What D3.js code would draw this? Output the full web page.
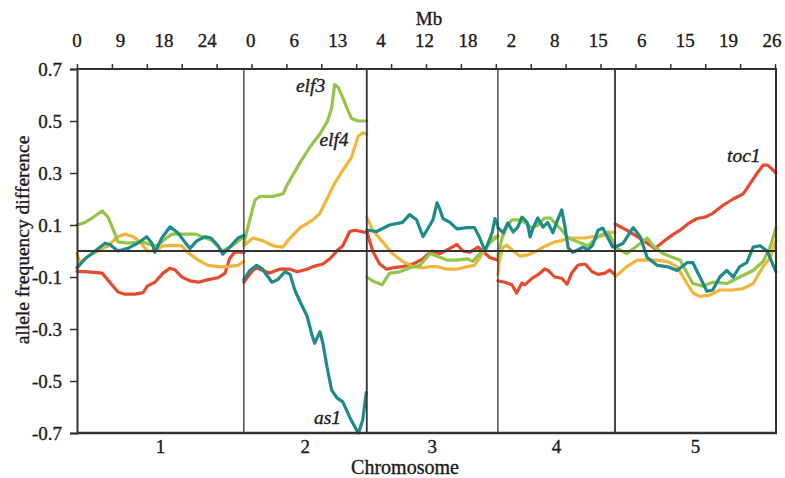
<!DOCTYPE html>
<html>
<head>
<meta charset="utf-8">
<script src="https://cdn.jsdelivr.net/npm/d3@7"></script>
<style>
  html, body { margin: 0; padding: 0; background: #fff; }
  svg { display: block; font-family: "Liberation Serif", "Times New Roman", serif; }
  svg text { stroke: #1a1a1a; stroke-width: 0.35px; }
</style>
</head>
<body>
<svg id="chart" width="785" height="478"></svg>
<script>
// ---------------- data ----------------
const chromosomes = ["1", "2", "3", "4", "5"];
const chromLengths = [28.5, 21.0, 22.4, 20.0, 27.5]; // Mb (display)
const yTicks = [0.7, 0.5, 0.3, 0.1, -0.1, -0.3, -0.5, -0.7];
const topTickCount = 20;
const topTickLabels = ["0","9","18","24","0","6","13","4","12","18","2","8","15","6","15","19","26"];

// each series: one array of [Mb within chromosome, allele frequency difference] per chromosome
const greenSeries = [
  [[0,0.10],[1.4,0.11],[2.6,0.127],[4.3,0.154],[5.3,0.13],[6.1,0.088],[7.0,0.035],[8.7,0.03],[11.1,0.035],[12.5,0.025],[13.7,0.02],[15.0,0.045],[16.2,0.065],[18.4,0.065],[20.2,0.065],[21.4,0.055],[23.1,0.04],[24.8,0.0],[26.5,0.02],[28.5,0.055]],
  [[0,0.03],[1.0,0.12],[1.9,0.196],[2.7,0.21],[5.0,0.21],[6.7,0.22],[7.3,0.25],[9.6,0.34],[11.3,0.40],[13.0,0.45],[14.3,0.50],[15.0,0.55],[15.5,0.64],[16.1,0.63],[16.9,0.59],[17.8,0.54],[18.4,0.51],[19.5,0.50],[21.0,0.50]],
  [[0,-0.10],[1.0,-0.115],[2.6,-0.13],[3.9,-0.085],[5.6,-0.08],[7.3,-0.065],[9.1,-0.055],[10.8,-0.01],[12.0,-0.02],[13.7,-0.035],[15.4,-0.035],[17.1,-0.03],[18.1,-0.04],[19.3,-0.01],[20.2,0.01],[21.4,0.04],[22.4,0.055]],
  [[0,-0.02],[0.7,0.05],[1.5,0.092],[2.4,0.12],[3.4,0.12],[4.6,0.11],[5.8,0.088],[6.8,0.1],[8.0,0.127],[9.0,0.127],[9.7,0.108],[10.9,0.08],[12.0,0.05],[13.7,0.035],[15.4,0.02],[17.1,0.055],[18.8,0.073],[20.0,0.023]],
  [[0,0.015],[2.0,-0.01],[3.8,0.02],[5.5,0.05],[6.5,0.02],[8.2,-0.01],[9.9,-0.025],[11.1,-0.035],[12.3,-0.085],[13.3,-0.125],[15.0,-0.135],[16.7,-0.12],[19.1,-0.125],[21.3,-0.10],[23.6,-0.075],[25.3,-0.04],[26.5,0.015],[27.5,0.09]]
];
const orangeSeries = [
  [[0,-0.01],[0.5,-0.045],[1.9,-0.02],[3.6,0.0],[5.3,0.02],[7.0,0.055],[8.2,0.065],[9.6,0.055],[10.8,0.035],[12.0,0.0],[13.3,0.0],[14.7,0.02],[16.2,0.022],[17.9,0.02],[18.9,-0.005],[20.7,-0.035],[22.4,-0.055],[24.1,-0.06],[25.8,-0.06],[27.5,-0.055],[28.5,-0.04]],
  [[0,0.02],[1.5,0.05],[3.2,0.04],[5.0,0.02],[6.7,0.015],[7.5,0.04],[9.6,0.09],[11.8,0.12],[13.0,0.145],[14.2,0.2],[15.5,0.26],[16.9,0.31],[18.4,0.36],[19.5,0.44],[20.3,0.455],[21.0,0.45]],
  [[0,0.13],[1.0,0.08],[2.7,0.035],[4.4,-0.01],[6.1,-0.04],[7.9,-0.06],[9.6,-0.065],[10.8,-0.06],[12.0,-0.06],[13.7,-0.07],[15.4,-0.07],[17.1,-0.06],[18.4,-0.055],[19.3,-0.025],[20.5,0.015],[21.5,0.05],[22.4,0.06]],
  [[0,-0.09],[0.3,-0.028],[0.9,0.015],[1.5,0.023],[2.6,0.0],[3.8,-0.02],[5.1,-0.015],[6.3,-0.004],[7.5,0.012],[8.5,0.023],[9.7,0.035],[10.9,0.04],[12.0,0.05],[13.7,0.05],[14.9,0.05],[16.1,0.055],[17.1,0.055],[18.3,0.06],[19.5,0.073],[20.0,0.07]],
  [[0,-0.10],[2.0,-0.06],[3.8,-0.035],[5.5,-0.035],[7.2,-0.035],[8.9,-0.04],[10.6,-0.06],[12.3,-0.125],[13.3,-0.16],[14.5,-0.175],[16.2,-0.17],[17.9,-0.15],[20.0,-0.15],[21.9,-0.145],[23.6,-0.125],[25.3,-0.06],[26.5,-0.025],[27.5,0.04]]
];
const tealSeries = [
  [[0,-0.065],[1.4,-0.03],[3.1,0.0],[4.8,0.03],[5.6,0.025],[7.0,0.0],[8.7,0.01],[10.4,0.03],[11.9,0.055],[12.8,0.03],[13.3,-0.005],[14.5,0.05],[15.9,0.093],[17.3,0.068],[18.4,0.035],[19.3,0.01],[20.5,0.04],[21.9,0.055],[22.9,0.05],[24.1,0.02],[24.9,-0.012],[26.1,0.015],[27.5,0.05],[28.5,0.06]],
  [[0,-0.11],[1.0,-0.075],[2.2,-0.055],[3.2,-0.07],[4.8,-0.12],[5.8,-0.11],[7.0,-0.08],[7.9,-0.09],[8.7,-0.15],[9.6,-0.195],[10.8,-0.25],[11.6,-0.32],[12.1,-0.355],[13.0,-0.31],[13.5,-0.355],[14.2,-0.445],[15.0,-0.535],[15.9,-0.565],[16.9,-0.58],[18.1,-0.64],[19.3,-0.69],[19.6,-0.70],[20.3,-0.65],[20.9,-0.545]],
  [[0,0.08],[1.7,0.075],[3.9,0.1],[6.1,0.11],[7.3,0.14],[8.5,0.12],[9.6,0.055],[10.8,0.1],[11.3,0.12],[12.0,0.185],[12.5,0.16],[13.0,0.125],[14.2,0.11],[15.4,0.085],[17.1,0.09],[18.4,0.09],[19.3,0.05],[20.2,0.0],[20.7,0.03],[21.4,0.07],[21.9,0.125],[22.3,0.1]],
  [[0,0.09],[0.9,0.07],[1.7,0.108],[2.6,0.073],[3.4,0.092],[4.1,0.13],[5.0,0.11],[5.5,0.054],[6.0,0.088],[6.8,0.127],[7.7,0.092],[8.5,0.11],[9.4,0.07],[10.2,0.12],[10.9,0.158],[11.4,0.1],[12.0,0.012],[12.8,-0.005],[13.7,0.005],[14.5,0.015],[15.4,0.005],[16.2,0.023],[17.1,0.08],[17.9,0.088],[18.8,0.05],[19.6,0.015],[20.0,0.02]],
  [[0,0.015],[1.4,0.03],[3.1,0.09],[4.3,0.055],[5.5,-0.025],[7.2,-0.055],[8.9,-0.06],[10.6,-0.075],[12.3,-0.045],[13.3,-0.045],[14.5,-0.1],[15.7,-0.155],[16.7,-0.15],[17.9,-0.10],[19.1,-0.075],[20.2,-0.1],[21.3,-0.06],[22.5,-0.045],[23.6,0.015],[24.8,0.02],[26.0,0.0],[27.5,-0.08]]
];
const redSeries = [
  [[0,-0.078],[1.9,-0.08],[4.3,-0.085],[5.6,-0.12],[7.0,-0.158],[8.2,-0.166],[9.9,-0.166],[11.3,-0.16],[12.0,-0.135],[13.3,-0.12],[14.7,-0.085],[15.9,-0.066],[16.7,-0.072],[17.9,-0.1],[19.3,-0.115],[20.7,-0.12],[22.4,-0.11],[24.1,-0.103],[25.3,-0.085],[26.1,-0.028],[27.0,-0.003],[28.5,-0.005]],
  [[0,-0.12],[1.5,-0.075],[2.2,-0.065],[4.4,-0.085],[6.1,-0.07],[7.9,-0.07],[9.1,-0.08],[10.8,-0.07],[11.8,-0.06],[13.5,-0.05],[14.7,-0.03],[15.9,0.0],[16.9,0.02],[18.1,0.075],[19.0,0.08],[21.0,0.07]],
  [[0,0.075],[1.0,0.0],[2.2,-0.05],[3.4,-0.07],[4.4,-0.065],[6.1,-0.06],[7.9,-0.05],[9.6,-0.03],[11.1,0.0],[12.5,-0.01],[14.2,0.01],[15.4,0.025],[16.4,0.0],[17.6,-0.005],[19.0,0.015],[19.8,0.0],[21.0,-0.025],[22.4,-0.035]],
  [[0,-0.115],[1.2,-0.12],[2.4,-0.13],[3.2,-0.162],[4.1,-0.123],[4.6,-0.13],[5.8,-0.105],[6.8,-0.092],[8.0,-0.069],[8.7,-0.077],[9.7,-0.1],[10.9,-0.105],[11.8,-0.128],[12.6,-0.085],[13.7,-0.054],[14.9,-0.05],[16.1,-0.08],[17.1,-0.09],[18.3,-0.085],[19.1,-0.073],[20.0,-0.092]],
  [[0,0.104],[2.0,0.08],[3.8,0.055],[5.5,0.03],[6.8,0.01],[8.2,0.035],[9.7,0.06],[11.1,0.08],[12.5,0.105],[14.0,0.125],[15.4,0.13],[16.7,0.145],[18.4,0.175],[20.2,0.2],[21.9,0.22],[23.1,0.26],[24.3,0.30],[25.3,0.33],[26.1,0.33],[27.5,0.30]]
];
// gene annotations: [label, chromosome index, Mb, value]
const geneLabels = [["elf3",1,11.4,0.61],["elf4",1,15.4,0.404],["as1",1,14.3,-0.665],["toc1",4,22.0,0.342]];

// ---------------- drawing ----------------
const svg = d3.select("#chart");
const pLeft = 77, pRight = 776, pTop = 69, pBottom = 433;
const chromStarts = [0].concat(Array.from(d3.cumsum(chromLengths)).slice(0, -1));
const total = d3.sum(chromLengths);
const x = d3.scaleLinear().domain([0, total]).range([pLeft, pRight]);
const y = d3.scaleLinear().domain([-0.7, 0.7]).range([pBottom, pTop]);
const textColor = "#1a1a1a";

// series lines
const seriesDefs = [
  {data: redSeries, color: "#e34b2c"},
  {data: orangeSeries, color: "#f2b53a"},
  {data: greenSeries, color: "#92c548"},
  {data: tealSeries, color: "#1f8a8a"}
];
const line = d3.line();
const plot = svg.append("g");
seriesDefs.forEach(s => {
  s.data.forEach((pts, ci) => {
    plot.append("path")
      .attr("d", line(pts.map(p => [x(chromStarts[ci] + p[0]), y(p[1])])))
      .attr("fill", "none")
      .attr("stroke", s.color)
      .attr("stroke-width", 3.2)
      .attr("stroke-linejoin", "round")
      .attr("stroke-linecap", "round");
  });
});

// zero line
svg.append("line").attr("x1", pLeft).attr("x2", pRight).attr("y1", y(0)).attr("y2", y(0))
  .attr("stroke", "#333").attr("stroke-width", 2);

// chromosome dividers
chromStarts.slice(1).forEach((o, i) => {
  svg.append("line").attr("x1", x(o)).attr("x2", x(o)).attr("y1", pTop).attr("y2", pBottom)
    .attr("stroke", "#333").attr("stroke-width", (i === 1 || i === 3) ? 1.8 : 1.3);
});

// frame: right & bottom
svg.append("line").attr("x1", pRight).attr("x2", pRight).attr("y1", pTop).attr("y2", pBottom)
  .attr("stroke", "#333").attr("stroke-width", 2);
svg.append("line").attr("x1", pLeft).attr("x2", pRight + 1).attr("y1", pBottom).attr("y2", pBottom)
  .attr("stroke", "#333").attr("stroke-width", 2.5);

// left axis
const yAxis = d3.axisLeft(y).tickValues(yTicks).tickSize(7).tickPadding(8)
  .tickFormat(d => d.toFixed(1));
const gy = svg.append("g").attr("transform", `translate(${pLeft},0)`).call(yAxis);
gy.select(".domain").attr("stroke", "#333").attr("stroke-width", 2);
gy.selectAll(".tick line").attr("stroke", "#333").attr("stroke-width", 1.5);
gy.selectAll(".tick text").attr("font-family", "Liberation Serif").attr("font-size", 19)
  .attr("fill", textColor);

// top axis ticks
const xt = d3.scaleLinear().domain([0, topTickCount]).range([pLeft, pRight - 1]);
const topAxis = d3.axisTop(xt).tickValues(d3.range(topTickCount + 1)).tickSize(5).tickSizeOuter(0).tickFormat("");
const gt = svg.append("g").attr("transform", `translate(0,${pTop})`).call(topAxis);
gt.select(".domain").attr("stroke", "#333").attr("stroke-width", 2).attr("d", `M${pLeft - 1},0H${pRight + 1}`);
gt.selectAll(".tick line").attr("stroke", "#333").attr("stroke-width", 1.5);

// top labels
const xl = d3.scalePoint().domain(d3.range(topTickLabels.length)).range([pLeft, 772]);
svg.append("g").selectAll("text").data(topTickLabels).join("text")
  .attr("x", (d, i) => xl(i)).attr("y", 47)
  .attr("text-anchor", "middle").attr("font-size", 19).attr("fill", textColor)
  .text(d => d);
svg.append("text").attr("x", 429).attr("y", 25).attr("text-anchor", "middle")
  .attr("font-size", 19).attr("fill", textColor).text("Mb");

// chromosome labels
svg.append("g").selectAll("text").data(chromosomes).join("text")
  .attr("x", (d, i) => x(chromStarts[i] + chromLengths[i] / 2)).attr("y", 453)
  .attr("text-anchor", "middle").attr("font-size", 19).attr("fill", textColor)
  .text(d => d);
svg.append("text").attr("x", 405).attr("y", 474).attr("text-anchor", "middle")
  .attr("font-size", 20).attr("fill", textColor).text("Chromosome");

// y title
svg.append("text").attr("transform", "translate(29,240) rotate(-90)")
  .attr("text-anchor", "middle").attr("font-size", 19.5).attr("fill", textColor)
  .text("allele frequency difference");

// gene labels
svg.append("g").selectAll("text").data(geneLabels).join("text")
  .attr("x", d => x(chromStarts[d[1]] + d[2])).attr("y", d => y(d[3]))
  .attr("text-anchor", "middle").attr("font-style", "italic").attr("font-size", 19.5)
  .attr("fill", textColor).text(d => d[0]);
</script>
</body>
</html>
